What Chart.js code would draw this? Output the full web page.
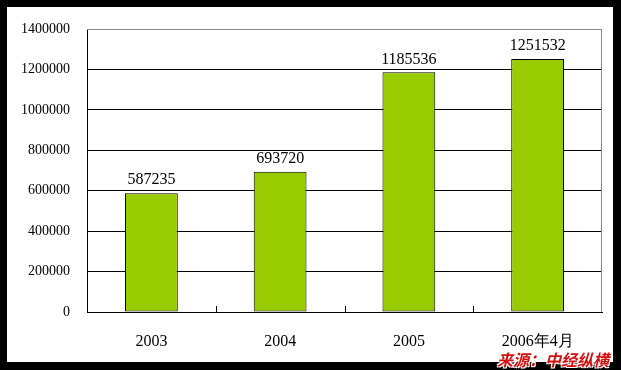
<!DOCTYPE html>
<html>
<head>
<meta charset="utf-8">
<script src="https://cdn.jsdelivr.net/npm/chart.js@4.4.1/dist/chart.umd.min.js"></script>
<style>
  html, body { margin: 0; padding: 0; background: #000; }
  body { width: 621px; height: 370px; position: relative; overflow: hidden; }
  #frame { position: absolute; left: 7px; top: 7px; width: 606px; height: 355px; background: #fff; }
  #source {
    position: absolute; left: 497px; top: 347px;
    font: italic bold 16px "Noto Sans CJK SC", sans-serif;
    color: #d41111;
    text-shadow: 1px 1px 0 #fff, -1px -1px 0 #fff, 1px -1px 0 #fff, -1px 1px 0 #fff;
  }
</style>
</head>
<body>
<div id="frame"><canvas id="chart" width="606" height="355"></canvas></div>
<div id="source">来源：中经纵横</div>
<script>
/* bar chart: yearly totals */
const categories = ['2003', '2004', '2005', '2006年4月'];
const values = [587235, 693720, 1185536, 1251532];
const yTicks = [0, 200000, 400000, 600000, 800000, 1000000, 1200000, 1400000];

const serif = '"Liberation Serif", "Times New Roman", serif';

/* value labels above bars, border and small tick marks */
const extras = {
  id: 'extras',
  afterDatasetsDraw(chart) {
    const ctx = chart.ctx;
    const meta = chart.getDatasetMeta(0);
    ctx.save();
    ctx.font = '16px ' + serif;
    ctx.fillStyle = '#000';
    ctx.textAlign = 'center';
    ctx.textBaseline = 'bottom';
    meta.data.forEach((bar, i) => {
      ctx.fillText(String(values[i]), bar.x, bar.y - 5);
    });

    const a = chart.chartArea;
    const xs = chart.scales.x;
    // gray border top and right
    ctx.strokeStyle = '#888';
    ctx.lineWidth = 1;
    ctx.beginPath();
    ctx.moveTo(a.left, a.top + 0.5);
    ctx.lineTo(a.right - 0.5, a.top + 0.5);
    ctx.lineTo(a.right - 0.5, a.bottom);
    ctx.stroke();

    // tick marks between categories
    ctx.strokeStyle = '#000';
    ctx.beginPath();
    for (let i = 1; i < categories.length; i++) {
      const x = Math.round((xs.getPixelForValue(i - 1) + xs.getPixelForValue(i)) / 2) + 0.5;
      ctx.moveTo(x, a.bottom);
      ctx.lineTo(x, a.bottom - 6);
    }
    ctx.stroke();
    ctx.restore();
  }
};

new Chart(document.getElementById('chart'), {
  type: 'bar',
  data: {
    labels: categories,
    datasets: [{
      data: values,
      backgroundColor: '#99cc00',
      borderColor: '#000',
      borderWidth: 1,
      borderSkipped: false,
      categoryPercentage: 1,
      barPercentage: 0.41
    }]
  },
  options: {
    responsive: false,
    animation: false,
    layout: { padding: { left: 0, right: 11, top: 22, bottom: 0 } },
    plugins: { legend: { display: false }, tooltip: { enabled: false } },
    scales: {
      x: {
        grid: { display: false },
        border: { color: '#000', width: 1 },
        ticks: { color: '#000', font: { family: serif, size: 16 }, padding: 12 },
        afterFit(s) { s.height = 50; }
      },
      y: {
        min: 0,
        max: 1400000,
        afterBuildTicks(s) { s.ticks = yTicks.map(v => ({ value: v })); },
        grid: {
          color: ctx => ctx.tick && ctx.tick.value === 1400000 ? '#888' : '#000',
          drawTicks: false
        },
        border: { color: '#000', width: 1 },
        ticks: {
          color: '#000',
          font: { family: serif, size: 14 },
          padding: 17,
          callback: v => String(v)
        },
        afterFit(s) { s.width = 80; s.paddingTop = 0; s.paddingBottom = 0; }
      }
    }
  },
  plugins: [extras]
});
</script>
</body>
</html>
